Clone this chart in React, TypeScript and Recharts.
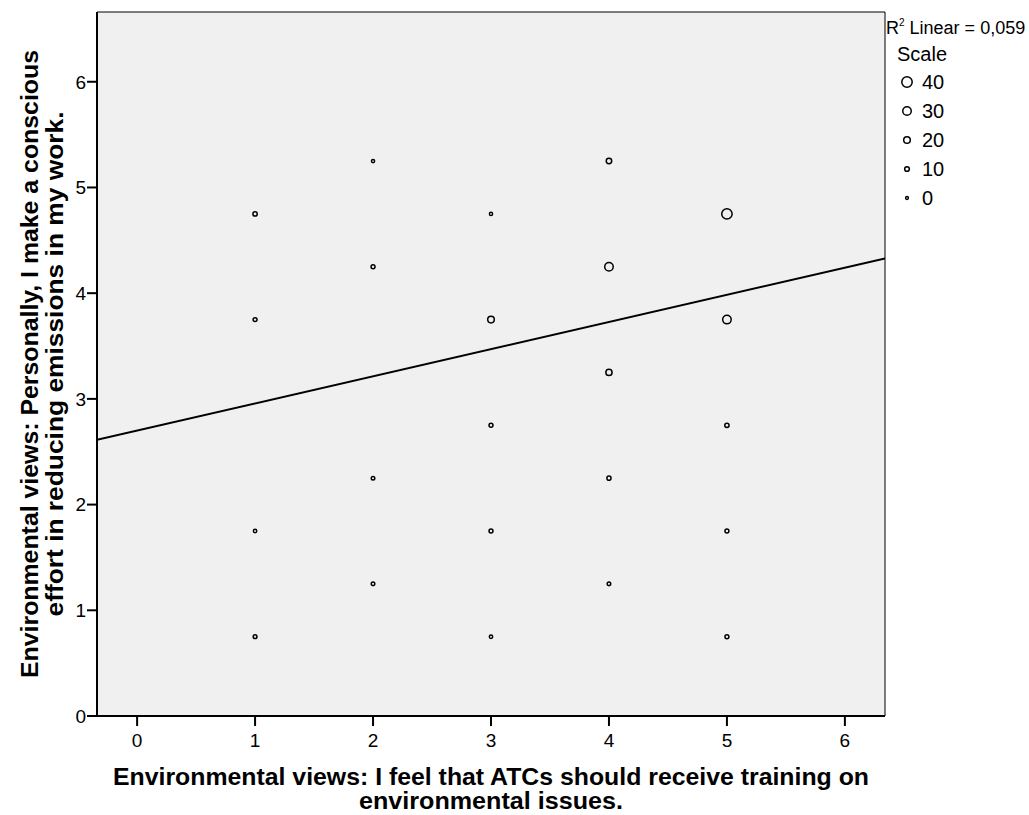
import React from 'react';
import {
  ScatterChart,
  Scatter,
  XAxis,
  YAxis,
  ReferenceArea,
  ReferenceLine,
  Label,
} from 'recharts';

// Response pairs (training opinion vs. emissions effort) and how many answered each
const trainingScores = [1, 1, 1, 1, 2, 2, 2, 2, 3, 3, 3, 3, 3, 4, 4, 4, 4, 4, 5, 5, 5, 5, 5];
const effortScores = [
  4.75, 3.75, 1.75, 0.75,
  5.25, 4.25, 2.25, 1.25,
  4.75, 3.75, 2.75, 1.75, 0.75,
  5.25, 4.25, 3.25, 2.25, 1.25,
  4.75, 3.75, 2.75, 1.75, 0.75,
];
const respondentCounts = [
  8, 6, 3, 5,
  2, 6, 4, 4,
  2, 20, 6, 6, 3,
  14, 30, 18, 7, 4,
  40, 30, 8, 6, 6,
];

const axisTicks = [0, 1, 2, 3, 4, 5, 6];
const legendSizes = [40, 30, 20, 10, 0];

// fitted line: y = intercept + slope * x
const fitIntercept = 2.7;
const fitSlope = 0.257;
const rSquaredText = '0,059';

const X_DOMAIN: [number, number] = [-0.34, 6.34];
const Y_DOMAIN: [number, number] = [0, 6.66];

const FONT = "Arial, 'Liberation Sans', sans-serif";

const points = trainingScores.map((x, i) => ({
  x,
  y: effortScores[i],
  n: respondentCounts[i],
}));

const radiusFor = (n: number) => 1.4 + n * 0.095;

const Bubble = (props: any) => {
  const { cx, cy, payload } = props;
  if (cx == null || cy == null) return null;
  return (
    <circle
      cx={cx}
      cy={cy}
      r={radiusFor(payload.n)}
      fill="none"
      stroke="#000"
      strokeWidth={1.5}
    />
  );
};

// axis titles are two-line, bold, stretched a little to the original width
const YTitle = () => (
  <g fontFamily={FONT} fontWeight="bold" fontSize={23} fill="#000">
    <text
      x={30}
      y={364}
      textAnchor="middle"
      dominantBaseline="central"
      transform="rotate(-90 30 364)"
      textLength={628}
      lengthAdjust="spacingAndGlyphs"
    >
      Environmental views: Personally, I make a conscious
    </text>
    <text
      x={55}
      y={364}
      textAnchor="middle"
      dominantBaseline="central"
      transform="rotate(-90 55 364)"
      textLength={505}
      lengthAdjust="spacingAndGlyphs"
    >
      effort in reducing emissions in my work.
    </text>
  </g>
);

const XTitle = () => (
  <g fontFamily={FONT} fontWeight="bold" fontSize={23} fill="#000">
    <text
      x={491}
      y={777}
      textAnchor="middle"
      dominantBaseline="central"
      textLength={756}
      lengthAdjust="spacingAndGlyphs"
    >
      Environmental views: I feel that ATCs should receive training on
    </text>
    <text
      x={491}
      y={801}
      textAnchor="middle"
      dominantBaseline="central"
      textLength={264}
      lengthAdjust="spacingAndGlyphs"
    >
      environmental issues.
    </text>
  </g>
);

export default function App() {
  return (
    <div style={{ position: 'absolute', left: 0, top: 0, width: 1029, height: 815, background: '#fff' }}>
      <ScatterChart
        width={1029}
        height={815}
        margin={{ top: 12, right: 144, bottom: 0, left: 40 }}
      >
        <ReferenceArea
          x1={X_DOMAIN[0]}
          x2={X_DOMAIN[1]}
          y1={Y_DOMAIN[0]}
          y2={Y_DOMAIN[1]}
          fill="#f0f0f0"
          fillOpacity={1}
          stroke="#000"
          strokeWidth={1}
        />
        <XAxis
          type="number"
          dataKey="x"
          domain={X_DOMAIN}
          ticks={axisTicks}
          allowDataOverflow
          height={99}
          tickSize={10}
          tickMargin={8}
          axisLine={{ stroke: '#000', strokeWidth: 2 }}
          tickLine={{ stroke: '#000', strokeWidth: 2 }}
          tick={{ fill: '#000', fontSize: 19, fontFamily: FONT }}
        >
          <Label content={() => <XTitle />} />
        </XAxis>
        <YAxis
          type="number"
          dataKey="y"
          domain={Y_DOMAIN}
          ticks={axisTicks}
          allowDataOverflow
          width={57}
          tickSize={10}
          tickMargin={1}
          axisLine={{ stroke: '#000', strokeWidth: 2 }}
          tickLine={{ stroke: '#000', strokeWidth: 2 }}
          tick={{ fill: '#000', fontSize: 19, fontFamily: FONT }}
        >
          <Label content={() => <YTitle />} />
        </YAxis>
        <ReferenceLine
          segment={[
            { x: X_DOMAIN[0], y: fitIntercept + fitSlope * X_DOMAIN[0] },
            { x: X_DOMAIN[1], y: fitIntercept + fitSlope * X_DOMAIN[1] },
          ]}
          stroke="#000"
          strokeWidth={2}
          ifOverflow="hidden"
        />
        <Scatter data={points} shape={Bubble} isAnimationActive={false} />
      </ScatterChart>
      <div
        style={{
          position: 'absolute',
          left: 886,
          top: 19,
          fontFamily: FONT,
          color: '#000',
          fontSize: 18,
          lineHeight: 1,
        }}
      >
        <div style={{ whiteSpace: 'nowrap' }}>
          R<sup style={{ fontSize: 10, verticalAlign: 'top', position: 'relative', top: -1 }}>2</sup>
          {'  '}Linear = {rSquaredText}
        </div>
        <div style={{ marginTop: 7, marginLeft: 11, fontSize: 20 }}>Scale</div>
        <div style={{ marginTop: 3 }}>
          {legendSizes.map((n) => (
            <div key={n} style={{ display: 'flex', alignItems: 'center', height: 29 }}>
              <svg width={30} height={20} style={{ display: 'block' }}>
                <circle cx={21} cy={10} r={radiusFor(n)} fill="none" stroke="#000" strokeWidth={1.5} />
              </svg>
              <span style={{ fontSize: 20, marginLeft: 6 }}>{n}</span>
            </div>
          ))}
        </div>
      </div>
    </div>
  );
}
